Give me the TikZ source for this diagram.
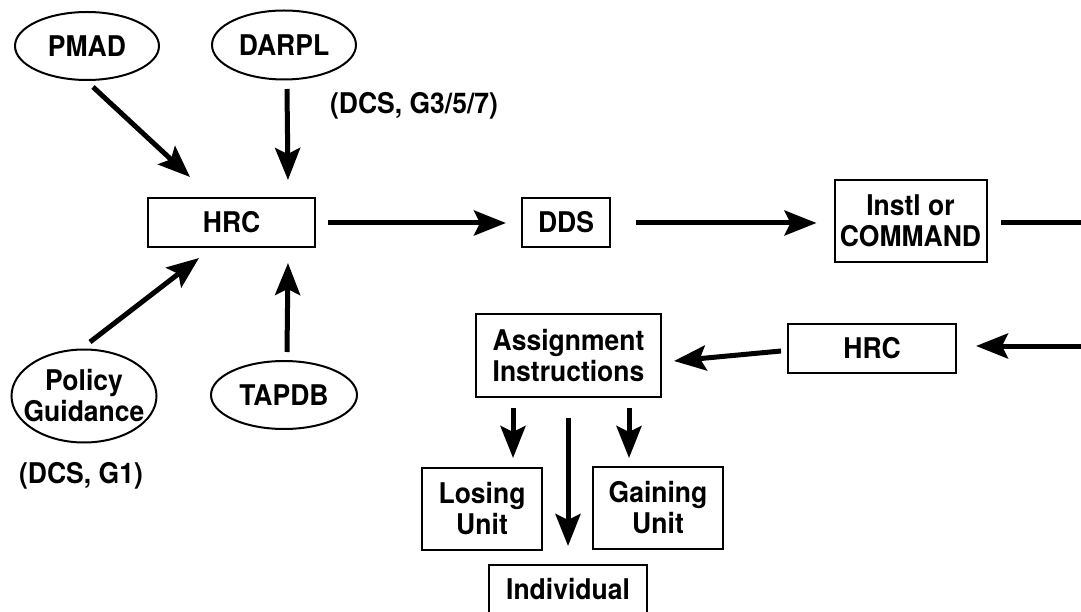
\documentclass[tikz,border=0pt]{standalone}
\usepackage{fontspec}
\setmainfont[FakeStretch=0.93]{TeX Gyre Heros}
\usetikzlibrary{shapes.geometric,arrows.meta,calc}
\tikzset{
  txt/.style={font=\fontsize{28.5}{31}\selectfont\bfseries, align=center},
  oval/.style={txt, ellipse, draw, line width=2pt, inner sep=0pt},
  box/.style={txt, rectangle, draw, line width=2pt, inner sep=0pt},
  arr/.style={line width=5pt, -{Stealth[length=32pt,width=25pt,inset=6pt]}},
  plain/.style={line width=5pt}
}
\begin{document}
\begin{tikzpicture}[x=1pt,y=-1pt]
\useasboundingbox (0,0) rectangle (1081,612);
\clip (0,0) rectangle (1081,612);
% ovals
\node[oval, minimum width=144pt, minimum height=68pt] (pmad) at (87,46) {PMAD};
\node[oval, minimum width=144pt, minimum height=69pt] (darpl) at (284,45) {DARPL};
\node[oval, inner xsep=-16pt, inner ysep=-4pt, minimum width=145pt, minimum height=93pt] (policy) at (84,396) {Policy\\Guidance};
\node[oval, minimum width=146pt, minimum height=68pt] (tapdb) at (284,395) {TAPDB};
% labels
\node[txt] (lab1) at (414,106) {(DCS, G3/5/7)};
\node[txt] (lab2) at (81,476) {(DCS, G1)};
% boxes
\node[box, minimum width=167pt, minimum height=49pt] (hrc) at (231.5,222.5) {HRC};
\node[box, minimum width=88pt, minimum height=49pt] (dds) at (566,222.5) {DDS};
\node[box, minimum width=152pt, minimum height=82pt] (instl) at (910.5,221) {Instl or\\COMMAND};
\node[box, minimum width=168pt, minimum height=49pt] (hrc2) at (872,348.5) {HRC};
\node[box, minimum width=185pt, minimum height=83pt] (assign) at (568.5,355.5) {Assignment\\Instructions};
\node[box, minimum width=120pt, minimum height=82pt] (losing) at (482,509) {Losing\\Unit};
\node[box, minimum width=130pt, minimum height=82pt] (gaining) at (658,508) {Gaining\\Unit};
\node[box, minimum width=158pt, minimum height=49pt] (indiv) at (568,589.5) {Individual};
% edge coordinates
\coordinate (edgeA) at (1095,223);
\coordinate (edgeB) at (1095,346);
% connectors
\draw[arr] ($(pmad.south)+(6,6)$) -- ($(hrc.north west)+(43,-20)$);
\draw[arr] ($(darpl.south)+(3,8.5)$) -- ($(hrc.north east)+(-28,-17)$);
\draw[arr] ($(policy.north)+(6,-6.5)$) -- ($(hrc.south west)+(52,10)$);
\draw[arr] ($(tapdb.north)+(3,-8)$) -- ($(hrc.south east)+(-28,15)$);
\draw[arr] ($(hrc.east)+(12,0.5)$) -- ($(dds.west)+(-15,0.5)$);
\draw[arr] ($(dds.east)+(25,0.5)$) -- ($(dds.east -| instl.west)+(-17,0.5)$);
\draw[plain] ($(instl.east)+(13.5,2)$) -- (edgeA);
\draw[arr] (edgeB) -- ($(hrc2.east)+(19,-2.5)$);
\draw[arr] ($(hrc2.west)+(-6,2.5)$) -- ($(assign.east)+(12,5.5)$);
\draw[arr] ($(assign.south)+(-55.5,10)$) -- ($(losing.north)+(31,-9)$);
\draw[arr] ($(assign.south)+(-0.5,20)$) -- ($(indiv.north)+(0,-18)$);
\draw[arr] ($(assign.south)+(60.5,10)$) -- ($(gaining.north)+(-29,-8)$);
\end{tikzpicture}
\end{document}
